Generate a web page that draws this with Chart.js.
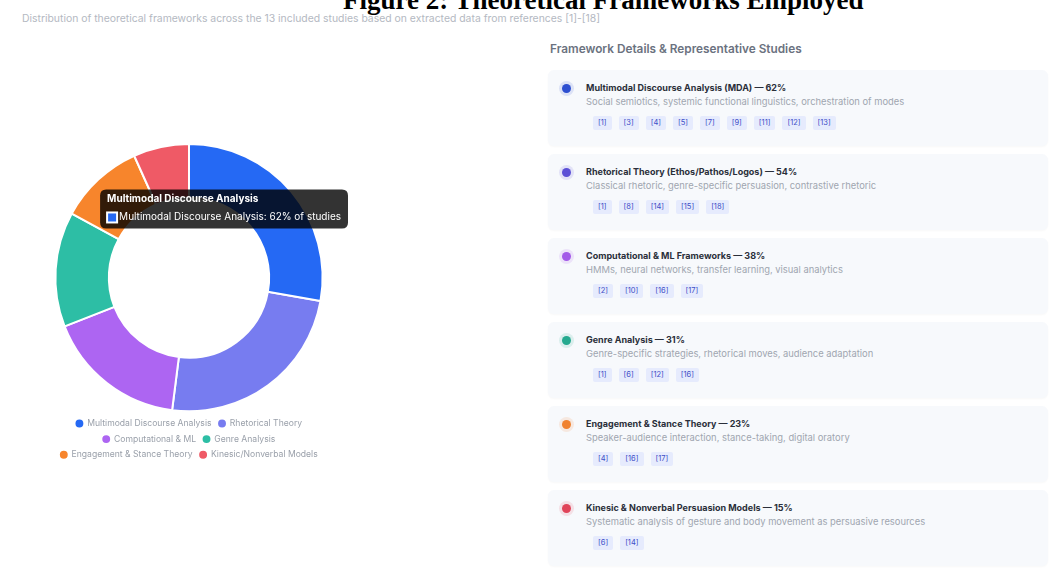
<!DOCTYPE html>
<html>
<head>
<meta charset="utf-8">
<script src="https://cdn.jsdelivr.net/npm/chart.js@4.4.1/dist/chart.umd.min.js"></script>
<style>
  body { margin: 0; width: 1056px; height: 574px; background: #fff; overflow: hidden; position: relative; font-family: Inter, "Noto Sans", sans-serif; }
  #title { position: absolute; left: 343px; top: -13px; font: bold 27px/27px "Liberation Serif", "Times New Roman", serif; color: #000; white-space: nowrap; }
  #subtitle { position: absolute; left: 22px; top: 12px; font-size: 10.4px; color: #b4b9c2; white-space: nowrap; }
  #chartBox { position: absolute; left: 30px; top: 143px; width: 318px; height: 326px; }
  #heading { position: absolute; left: 550px; top: 42px; font-size: 11.8px; font-weight: 600; color: #6b7280; }
  .card { position: absolute; left: 548px; width: 500px; height: 76px; background: #f7f9fc; border-radius: 6px; box-shadow: 0 1px 2px rgba(0,0,0,0.03); }
  .dot { position: absolute; left: 14px; top: 14px; width: 9px; height: 9px; border-radius: 50%; }
  .ctitle { position: absolute; left: 38px; top: 12px; font-size: 9px; font-weight: 700; color: #2a2f3a; white-space: nowrap; }
  .cdesc { position: absolute; left: 38px; top: 26px; font-size: 9.4px; color: #a0a6b0; white-space: nowrap; }
  .tags { position: absolute; left: 45px; top: 46px; display: flex; gap: 7px; }
  .tag { font-size: 7.5px; line-height: 14px; height: 14px; padding: 0 5px; background: #e6ebfd; color: #3d4ec8; border-radius: 2px; }
</style>
</head>
<body>
<div id="title">Figure 2: Theoretical Frameworks Employed</div>
<div id="subtitle">Distribution of theoretical frameworks across the 13 included studies based on extracted data from references [1]-[18]</div>
<div id="chartBox"><canvas id="chart"></canvas></div>
<div id="heading">Framework Details &amp; Representative Studies</div>
<div id="cards"></div>

<script>
const labels = ["Multimodal Discourse Analysis", "Rhetorical Theory", "Computational & ML", "Genre Analysis", "Engagement & Stance Theory", "Kinesic/Nonverbal Models"];
const values = [62, 54, 38, 31, 23, 15];
const colors = ["#2569f4", "#777cf0", "#ad65f2", "#2dbea5", "#f7852c", "#ef5a66"];

const fullNames = [
  "Multimodal Discourse Analysis (MDA)",
  "Rhetorical Theory (Ethos/Pathos/Logos)",
  "Computational & ML Frameworks",
  "Genre Analysis",
  "Engagement & Stance Theory",
  "Kinesic & Nonverbal Persuasion Models"
];
const descriptions = [
  "Social semiotics, systemic functional linguistics, orchestration of modes",
  "Classical rhetoric, genre-specific persuasion, contrastive rhetoric",
  "HMMs, neural networks, transfer learning, visual analytics",
  "Genre-specific strategies, rhetorical moves, audience adaptation",
  "Speaker-audience interaction, stance-taking, digital oratory",
  "Systematic analysis of gesture and body movement as persuasive resources"
];
const refs = [
  ["[1]", "[3]", "[4]", "[5]", "[7]", "[9]", "[11]", "[12]", "[13]"],
  ["[1]", "[8]", "[14]", "[15]", "[18]"],
  ["[2]", "[10]", "[16]", "[17]"],
  ["[1]", "[6]", "[12]", "[16]"],
  ["[4]", "[16]", "[17]"],
  ["[6]", "[14]"]
];
const dotColors = ["#2d4fd0", "#5b4fd6", "#a35ae8", "#25a98f", "#f0812e", "#e04459"];

// ================= Cards =================
const cards = document.getElementById("cards");
fullNames.forEach((name, i) => {
  const top = 70 + i * 84;
  cards.innerHTML += `
    <div class="card" style="top:${top}px">
      <div class="dot" style="background:${dotColors[i]};box-shadow:0 0 0 3px ${dotColors[i]}22"></div>
      <div class="ctitle">${name.replace("&", "&amp;")} — ${values[i]}%</div>
      <div class="cdesc">${descriptions[i]}</div>
      <div class="tags">${refs[i].map(r => `<span class="tag">${r}</span>`).join("")}</div>
    </div>`;
});

// ================= Doughnut =================
const chart = new Chart(document.getElementById("chart"), {
  type: "doughnut",
  data: {
    labels: labels,
    datasets: [{
      data: values,
      backgroundColor: colors,
      hoverBackgroundColor: colors,
      borderColor: "#ffffff",
      hoverBorderColor: "#ffffff",
      borderWidth: 2,
      hoverOffset: 0
    }]
  },
  options: {
    responsive: true,
    maintainAspectRatio: false,
    animation: false,
    cutout: "60%",
    plugins: {
      legend: {
        position: "bottom",
        labels: {
          usePointStyle: true,
          pointStyle: "circle",
          boxWidth: 7,
          boxHeight: 7,
          padding: 7,
          color: "#9aa0aa",
          font: { family: "Inter", size: 8.6 }
        }
      },
      tooltip: {
        padding: { top: 4, bottom: 5, left: 7, right: 7 },
        titleFont: { family: "Inter", size: 10, weight: "bold" },
        bodyFont: { family: "Inter", size: 10 },
        callbacks: {
          label: (ctx) => `${ctx.label}: ${ctx.raw}% of studies`
        }
      }
    }
  }
});

chart.setActiveElements([{ datasetIndex: 0, index: 0 }]);
chart.tooltip.setActiveElements([{ datasetIndex: 0, index: 0 }], { x: 0, y: 0 });
chart.update("none");
</script>
</body>
</html>
